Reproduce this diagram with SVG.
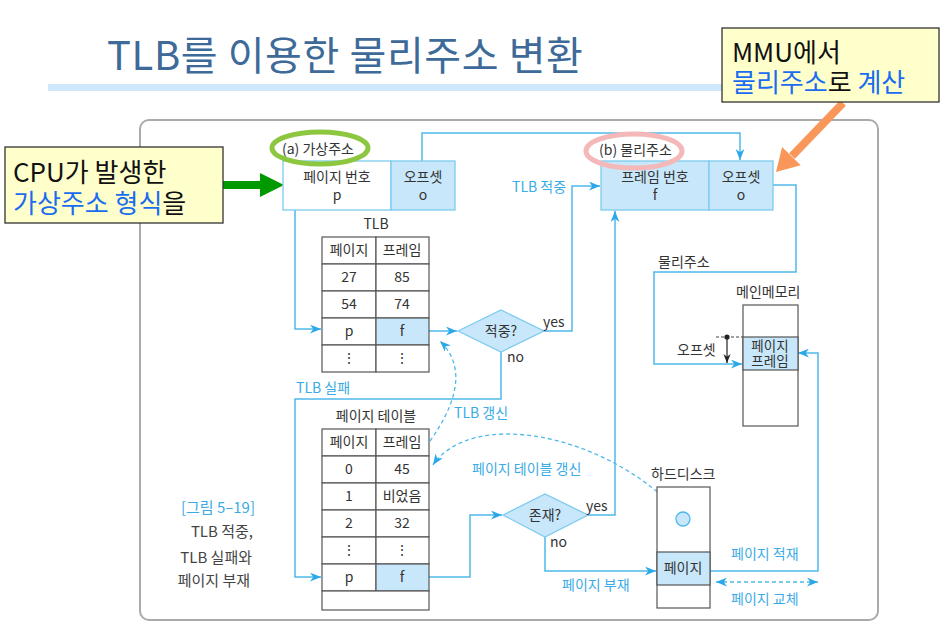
<svg xmlns="http://www.w3.org/2000/svg" width="950" height="638" viewBox="0 0 950 638">
<style>
text{font-family:"Noto Sans CJK KR","Noto Sans",sans-serif;fill:#333}
.t{font-size:14px}
.c{text-anchor:middle}
.lb{font-size:14px;fill:#3aabe6}
.big{font-size:26px;fill:#111}
.bl{fill:#1a6cf0}
.cap{font-size:15px;text-anchor:end;fill:#444}
.cell{fill:#fff;stroke:#555;stroke-width:1.2}
.cellb{fill:#c8e7fa;stroke:#555;stroke-width:1.2}
.addr{fill:#fff;stroke:#7ccbef;stroke-width:1.3}
.addrb{fill:#c8e7fa;stroke:#7ccbef;stroke-width:1.3}
.con{fill:none;stroke:#4fb8ea;stroke-width:1.5}
.dash{fill:none;stroke:#4fb8ea;stroke-width:1.3;stroke-dasharray:4 3}
.note{fill:#ffffcc;stroke:#333;stroke-width:1.3}
</style>
<defs>
<marker id="ab" viewBox="0 0 10 8" refX="10" refY="4" markerWidth="11" markerHeight="9" markerUnits="userSpaceOnUse" orient="auto-start-reverse">
<path d="M0,0 L10,4 L0,8 L3,4 z" fill="#2aa8e8"/>
</marker>
<marker id="ak" viewBox="0 0 10 8" refX="10" refY="4" markerWidth="9" markerHeight="8" markerUnits="userSpaceOnUse" orient="auto">
<path d="M0,0 L10,4 L0,8 L3,4 z" fill="#222"/>
</marker>
</defs>
<rect width="950" height="638" fill="#fff"/>
<g id="title">
<text x="107" y="70" style="font-size:40px;letter-spacing:0.6px;fill:#3d6a98">TLB를 이용한 물리주소 변환</text>
<rect x="48" y="84" width="680" height="7" fill="#cfe8fb"/>
</g>
<rect id="frame" x="140" y="120" width="738" height="500" rx="9" fill="#fff" stroke="#aaa" stroke-width="2"/>
<g id="connectors">
<polyline class="con" points="422,161 422,133 740,133 740,160" marker-end="url(#ab)"/>
<polyline class="con" points="295,210 295,329 321,329" marker-end="url(#ab)"/>
<line class="con" x1="429" y1="331" x2="457" y2="331" marker-end="url(#ab)"/>
<polyline class="con" points="544,331 572,331 572,186 600,186" marker-end="url(#ab)"/>
<polyline class="con" points="501,352 501,399 295,399 295,577 321,577" marker-end="url(#ab)"/>
<polyline class="con" points="429,577 470,577 470,515 502,515" marker-end="url(#ab)"/>
<polyline class="con" points="588,515 615,515 615,211" marker-end="url(#ab)"/>
<polyline class="con" points="545,537 545,571 656,571" marker-end="url(#ab)"/>
<polyline class="con" points="710,571 818,571 818,353 798,353" marker-end="url(#ab)"/>
<polyline class="con" points="773,185 796,185 796,272 654,272 654,364 742,364" marker-end="url(#ab)"/>
<line class="dash" x1="716" y1="582" x2="818" y2="582" marker-start="url(#ab)" marker-end="url(#ab)"/>
<path class="dash" d="M430,441 C452,410 470,370 440,341" marker-end="url(#ab)"/>
<path class="dash" d="M678,511 C600,430 470,410 433,465" marker-end="url(#ab)"/>
<line x1="716" y1="337" x2="743" y2="337" stroke="#444" stroke-width="1" stroke-dasharray="3 2"/>
<circle cx="727" cy="337" r="2.6" fill="#222"/>
<line x1="727" y1="337" x2="727" y2="363" stroke="#222" stroke-width="1.2" marker-end="url(#ak)"/>
<polygon points="223,181 260,181 260,173 284,185 260,197 260,189 223,189" fill="#009a00"/>
<line x1="843" y1="103" x2="792" y2="156" stroke="#f9965a" stroke-width="8"/>
<polygon points="776,172 800.7,165.3 782.1,147.1" fill="#f9965a"/>
</g>
<g id="cpu-note">
<rect class="note" x="5" y="147" width="218" height="76"/>
<text class="big" x="13" y="182">CPU가 발생한</text>
<text class="big" x="13" y="213"><tspan class="bl">가상주소 형식</tspan>을</text>
</g>
<g id="mmu-note">
<rect class="note" x="722" y="28" width="217" height="74"/>
<text class="big" x="732" y="62">MMU에서</text>
<text class="big" x="732" y="92"><tspan class="bl">물리주소</tspan>로 <tspan class="bl">계산</tspan></text>
</g>
<g id="virtual-address">
<rect class="addr" x="283" y="161" width="108" height="49"/>
<rect class="addrb" x="391" y="161" width="64" height="49"/>
<text class="t c" x="337" y="182">페이지 번호</text>
<text class="t c" x="337" y="200">p</text>
<text class="t c" x="423" y="182">오프셋</text>
<text class="t c" x="423" y="200">o</text>
<text class="t" x="282" y="154">(a) 가상주소</text>
<ellipse cx="320" cy="148" rx="48" ry="16" fill="none" stroke="#8dc63f" stroke-width="5"/>
</g>
<g id="physical-address">
<rect class="addrb" x="601" y="161" width="108" height="49"/>
<rect class="addrb" x="709" y="161" width="64" height="49"/>
<text class="t c" x="655" y="182">프레임 번호</text>
<text class="t c" x="655" y="200">f</text>
<text class="t c" x="741" y="182">오프셋</text>
<text class="t c" x="741" y="200">o</text>
<text class="t" x="599" y="155">(b) 물리주소</text>
<ellipse cx="634" cy="151" rx="48" ry="17" fill="none" stroke="#f5b8b8" stroke-width="5"/>
</g>
<g id="tlb">
<text class="t c" x="376" y="229">TLB</text>
<rect class="cell" x="322" y="237" width="54" height="27"/><rect class="cell" x="376" y="237" width="53" height="27"/>
<rect class="cell" x="322" y="264" width="54" height="27"/><rect class="cell" x="376" y="264" width="53" height="27"/>
<rect class="cell" x="322" y="291" width="54" height="27"/><rect class="cell" x="376" y="291" width="53" height="27"/>
<rect class="cell" x="322" y="318" width="54" height="27"/><rect class="cellb" x="376" y="318" width="53" height="27"/>
<rect class="cell" x="322" y="345" width="54" height="27"/><rect class="cell" x="376" y="345" width="53" height="27"/>
<text class="t c" x="349" y="255">페이지</text><text class="t c" x="402" y="255">프레임</text>
<text class="t c" x="349" y="282">27</text><text class="t c" x="402" y="282">85</text>
<text class="t c" x="349" y="309">54</text><text class="t c" x="402" y="309">74</text>
<text class="t c" x="349" y="336">p</text><text class="t c" x="402" y="336">f</text>
<text class="t c" x="349" y="363">⋮</text><text class="t c" x="402" y="363">⋮</text>
</g>
<g id="hit-decision">
<polygon points="458,331 501,310 544,331 501,352" fill="#c8e7fa" stroke="#7ccbef" stroke-width="1.3"/>
<text class="t c" x="501" y="336">적중?</text>
<text class="t" x="543" y="327">yes</text>
<text class="t" x="507" y="362">no</text>
</g>
<g id="page-table">
<text class="t c" x="376" y="421">페이지 테이블</text>
<rect class="cell" x="322" y="429" width="54" height="27"/><rect class="cell" x="376" y="429" width="53" height="27"/>
<rect class="cell" x="322" y="456" width="54" height="27"/><rect class="cell" x="376" y="456" width="53" height="27"/>
<rect class="cell" x="322" y="483" width="54" height="27"/><rect class="cell" x="376" y="483" width="53" height="27"/>
<rect class="cell" x="322" y="510" width="54" height="27"/><rect class="cell" x="376" y="510" width="53" height="27"/>
<rect class="cell" x="322" y="537" width="54" height="27"/><rect class="cell" x="376" y="537" width="53" height="27"/>
<rect class="cell" x="322" y="564" width="54" height="27"/><rect class="cellb" x="376" y="564" width="53" height="27"/>
<rect class="cell" x="322" y="591" width="107" height="19"/>
<text class="t c" x="349" y="447">페이지</text><text class="t c" x="402" y="447">프레임</text>
<text class="t c" x="349" y="474">0</text><text class="t c" x="402" y="474">45</text>
<text class="t c" x="349" y="501">1</text><text class="t c" x="402" y="501">비었음</text>
<text class="t c" x="349" y="528">2</text><text class="t c" x="402" y="528">32</text>
<text class="t c" x="349" y="555">⋮</text><text class="t c" x="402" y="555">⋮</text>
<text class="t c" x="349" y="582">p</text><text class="t c" x="402" y="582">f</text>
</g>
<g id="exist-decision">
<polygon points="503,515 545,494 588,515 545,537" fill="#c8e7fa" stroke="#7ccbef" stroke-width="1.3"/>
<text class="t c" x="545" y="520">존재?</text>
<text class="t" x="586" y="511">yes</text>
<text class="t" x="550" y="547">no</text>
</g>
<g id="main-memory">
<text class="t" x="736" y="297">메인메모리</text>
<rect class="cell" x="743" y="305" width="55" height="121"/>
<rect class="cellb" x="743" y="337" width="55" height="33"/>
<text class="c" x="770" y="351" style="font-size:13.5px">페이지</text>
<text class="c" x="770" y="366" style="font-size:13.5px">프레임</text>
<text class="t" x="677" y="355">오프셋</text>
</g>
<g id="hard-disk">
<text class="t" x="651" y="479">하드디스크</text>
<rect class="cell" x="657" y="487" width="53" height="121"/>
<rect class="cellb" x="657" y="552" width="53" height="33"/>
<text class="t c" x="683" y="573">페이지</text>
<circle cx="683" cy="519" r="7" fill="#c8e7fa" stroke="#4fb8ea" stroke-width="1.3"/>
</g>
<g id="labels">
<text class="lb" x="512" y="192">TLB 적중</text>
<text class="lb" x="296" y="393">TLB 실패</text>
<text class="lb" x="454" y="418">TLB 갱신</text>
<text class="lb" x="472" y="474">페이지 테이블 갱신</text>
<text class="lb" x="562" y="590">페이지 부재</text>
<text class="lb" x="731" y="559">페이지 적재</text>
<text class="lb" x="731" y="604">페이지 교체</text>
<text class="t" x="658" y="267">물리주소</text>
</g>
<g id="caption">
<text class="cap" x="255" y="513" style="fill:#3aabe6">[그림 5–19]</text>
<text class="cap" x="253" y="537">TLB 적중,</text>
<text class="cap" x="252" y="563">TLB 실패와</text>
<text class="cap" x="250" y="586">페이지 부재</text>
</g>
</svg>
